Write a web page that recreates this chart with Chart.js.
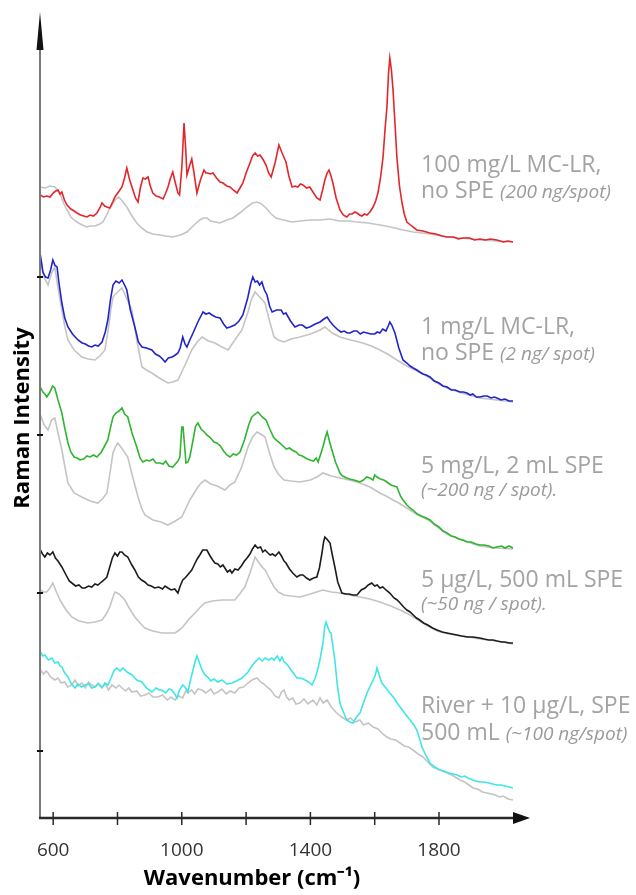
<!DOCTYPE html>
<html>
<head>
<meta charset="utf-8">
<script src="https://cdn.jsdelivr.net/npm/chart.js@4"></script>
<style>
  body { margin: 0; background: #fff; }
</style>
</head>
<body>
<canvas id="raman" width="636" height="895"></canvas>
<script>
// spectra as [wavenumber cm-1, stacked intensity (arb. units)]
const red = [[560,623],[570,621],[580,622],[590,621],[600,625],[608,627],[615,628],[621,624],[627,626],[635,618],[643,613],[655,609],[665,607],[674,605],[685,603],[695,602],[705,601],[715,603],[725,602],[736,605],[745,610],[752,615],[760,612],[767,611],[776,610],[785,616],[792,621],[803,626],[814,631],[822,640],[829,650],[838,638],[848,628],[856,620],[864,616],[871,630],[879,640],[887,639],[895,641],[902,632],[910,625],[920,622],[930,621],[942,619],[950,625],[957,631],[965,640],[972,646],[980,635],[988,625],[993,623],[1000,650],[1007,695],[1012,670],[1016,643],[1024,652],[1031,659],[1038,645],[1047,625],[1058,638],[1069,648],[1075,645],[1081,645],[1089,644],[1097,645],[1108,640],[1119,636],[1128,635],[1140,632],[1150,631],[1160,628],[1172,625],[1181,630],[1190,635],[1200,645],[1212,655],[1220,662],[1228,665],[1236,662],[1243,663],[1252,659],[1262,653],[1270,645],[1278,641],[1290,655],[1302,673],[1312,665],[1324,656],[1333,642],[1343,631],[1352,632],[1361,631],[1369,634],[1377,633],[1388,630],[1398,631],[1410,625],[1420,620],[1430,618],[1438,628],[1445,638],[1452,645],[1458,648],[1464,642],[1470,635],[1480,620],[1492,608],[1502,603],[1513,601],[1522,604],[1530,604],[1538,606],[1545,605],[1553,603],[1560,602],[1568,604],[1576,603],[1585,606],[1595,611],[1603,617],[1610,625],[1618,640],[1626,661],[1632,688],[1638,711],[1643,745],[1647,760],[1652,748],[1657,728],[1663,695],[1669,661],[1677,632],[1685,615],[1692,604],[1700,596],[1715,592],[1731,588],[1750,587],[1772,585],[1790,584],[1810,582],[1825,581],[1845,581],[1860,579],[1875,580],[1895,580],[1910,578],[1927,579],[1945,578],[1960,579],[1980,578],[2000,576],[2015,577],[2030,576]];

const blue = [[560,563],[564,555],[568,546],[576,541],[584,540],[592,548],[599,558],[605,553],[612,551],[618,535],[627,515],[636,500],[646,491],[660,484],[677,478],[690,475],[700,474],[710,472],[720,471],[730,473],[740,472],[752,476],[762,486],[770,498],[778,518],[786,533],[795,537],[805,535],[814,538],[822,533],[829,528],[840,508],[854,491],[865,476],[876,471],[890,470],[907,468],[918,464],[930,462],[940,459],[948,456],[958,460],[970,461],[980,463],[988,465],[995,470],[1003,481],[1010,474],[1016,471],[1025,478],[1035,485],[1050,496],[1066,506],[1075,504],[1085,505],[1094,503],[1105,501],[1119,500],[1130,494],[1140,490],[1150,491],[1165,493],[1178,497],[1190,503],[1205,520],[1215,535],[1221,541],[1228,536],[1235,537],[1242,533],[1249,536],[1257,528],[1265,523],[1273,512],[1281,506],[1295,508],[1309,508],[1316,504],[1324,505],[1338,497],[1352,491],[1365,493],[1375,493],[1387,490],[1398,491],[1415,494],[1430,496],[1442,499],[1452,501],[1460,497],[1470,493],[1486,488],[1495,486],[1505,487],[1515,485],[1523,485],[1535,487],[1545,487],[1555,484],[1565,486],[1576,485],[1588,484],[1600,484],[1608,486],[1616,485],[1625,489],[1635,487],[1642,492],[1647,496],[1653,493],[1663,485],[1675,470],[1688,458],[1700,455],[1710,452],[1720,450],[1731,448],[1740,446],[1750,444],[1760,443],[1772,441],[1785,437],[1800,435],[1812,432],[1825,431],[1838,428],[1850,428],[1865,426],[1876,426],[1887,425],[1897,423],[1905,424],[1916,421],[1927,421],[1940,422],[1950,422],[1962,420],[1972,421],[1980,420],[1993,418],[2005,419],[2018,417],[2030,417]];

const green = [[560,431],[568,426],[574,424],[580,421],[590,426],[598,432],[605,430],[615,418],[627,405],[636,390],[646,375],[655,366],[665,361],[675,360],[683,358],[695,359],[705,362],[715,361],[725,363],[736,361],[750,366],[760,372],[770,378],[778,390],[786,401],[795,405],[805,407],[814,410],[822,404],[832,401],[845,385],[860,371],[870,360],[879,356],[890,358],[900,357],[910,359],[920,355],[932,355],[942,354],[950,357],[960,352],[972,351],[980,354],[988,357],[994,361],[1000,391],[1004,391],[1008,375],[1013,355],[1019,356],[1025,361],[1035,378],[1043,392],[1050,395],[1060,389],[1070,386],[1078,383],[1090,380],[1100,376],[1109,375],[1120,372],[1130,367],[1140,363],[1150,361],[1160,364],[1170,363],[1181,366],[1195,378],[1208,393],[1218,401],[1228,404],[1237,406],[1250,401],[1262,398],[1275,388],[1285,381],[1293,378],[1305,375],[1315,372],[1325,369],[1335,370],[1343,368],[1355,366],[1365,363],[1375,362],[1385,360],[1398,358],[1410,357],[1418,360],[1424,356],[1432,364],[1439,371],[1446,380],[1452,386],[1460,376],[1467,368],[1478,356],[1492,345],[1500,342],[1513,340],[1522,339],[1535,338],[1545,337],[1554,336],[1565,338],[1575,341],[1585,340],[1595,338],[1600,343],[1607,341],[1618,339],[1628,338],[1638,336],[1650,333],[1660,332],[1669,331],[1680,322],[1688,318],[1700,313],[1710,310],[1719,308],[1732,304],[1745,302],[1760,300],[1772,298],[1785,294],[1800,291],[1812,287],[1825,285],[1838,282],[1850,281],[1862,279],[1875,278],[1888,276],[1900,276],[1915,274],[1927,273],[1940,273],[1955,272],[1967,270],[1980,271],[1995,272],[2005,270],[2018,272],[2030,270]];

const black = [[560,268],[567,264],[574,261],[582,265],[590,263],[599,266],[607,260],[615,257],[627,251],[640,243],[650,237],[658,235],[670,232],[680,233],[690,230],[699,230],[710,232],[720,231],[730,234],[739,233],[750,236],[758,238],[767,241],[775,250],[784,260],[792,265],[800,262],[807,266],[814,266],[822,263],[832,261],[843,254],[854,248],[865,241],[875,238],[885,236],[895,233],[905,232],[916,230],[928,231],[940,229],[948,232],[957,230],[967,228],[978,229],[988,225],[995,232],[1003,238],[1010,240],[1018,243],[1031,248],[1040,254],[1048,259],[1056,263],[1065,268],[1078,268],[1088,262],[1096,258],[1103,255],[1112,254],[1120,251],[1128,253],[1134,250],[1142,246],[1150,248],[1156,245],[1165,249],[1175,248],[1185,252],[1195,257],[1203,260],[1212,264],[1220,269],[1228,273],[1236,270],[1245,271],[1252,266],[1259,268],[1268,265],[1275,263],[1282,264],[1291,262],[1302,266],[1310,262],[1318,257],[1324,255],[1335,249],[1345,245],[1358,241],[1368,243],[1377,243],[1388,240],[1398,238],[1410,240],[1420,241],[1428,250],[1436,265],[1441,276],[1445,281],[1451,279],[1456,277],[1461,275],[1467,265],[1476,251],[1485,236],[1498,225],[1510,224],[1520,224],[1532,223],[1545,223],[1558,228],[1570,230],[1580,233],[1591,235],[1600,232],[1608,233],[1616,230],[1625,231],[1635,228],[1647,225],[1660,220],[1670,218],[1679,215],[1690,211],[1700,208],[1710,206],[1720,203],[1730,200],[1740,198],[1752,195],[1765,193],[1780,190],[1794,188],[1810,186],[1825,185],[1840,184],[1856,183],[1870,182],[1890,181],[1905,181],[1927,180],[1940,179],[1955,178],[1968,178],[1980,177],[1995,176],[2005,176],[2018,175],[2030,175]];

const cyan = [[560,166],[567,162],[574,163],[585,158],[596,160],[605,155],[615,156],[621,152],[627,151],[636,145],[646,141],[657,134],[668,130],[677,134],[688,131],[699,133],[710,134],[720,130],[730,131],[740,134],[752,130],[761,135],[770,133],[780,140],[790,148],[798,150],[808,147],[817,150],[830,146],[845,143],[860,138],[876,136],[890,130],[907,126],[920,130],[930,128],[938,128],[950,125],[960,129],[969,128],[978,124],[985,120],[993,128],[1003,133],[1010,131],[1019,126],[1027,138],[1035,148],[1041,156],[1047,162],[1053,157],[1063,148],[1072,143],[1081,141],[1090,137],[1100,139],[1112,136],[1125,138],[1140,134],[1156,135],[1170,137],[1187,140],[1197,143],[1206,146],[1218,152],[1228,156],[1240,160],[1250,157],[1259,160],[1270,158],[1280,160],[1287,158],[1297,162],[1305,157],[1312,161],[1318,156],[1324,155],[1340,148],[1358,140],[1370,140],[1383,138],[1395,136],[1405,133],[1415,140],[1424,150],[1432,162],[1439,175],[1445,192],[1449,196],[1455,190],[1460,186],[1464,185],[1470,172],[1476,158],[1484,132],[1492,115],[1500,108],[1513,98],[1522,96],[1532,95],[1543,101],[1554,105],[1565,115],[1576,125],[1586,132],[1595,138],[1602,143],[1607,150],[1613,144],[1622,135],[1635,130],[1647,125],[1660,120],[1670,115],[1679,111],[1695,104],[1710,98],[1722,93],[1731,88],[1740,79],[1747,71],[1760,62],[1772,55],[1787,51],[1803,48],[1815,47],[1830,45],[1845,44],[1856,43],[1870,41],[1880,42],[1890,40],[1905,38],[1915,37],[1927,36],[1940,36],[1955,35],[1967,34],[1980,33],[1993,33],[2005,32],[2018,31],[2030,30]];

// grey reference spectra drawn under each trace
const grey1 = [[560,631],[575,630],[590,632],[605,631],[613,628],[621,625],[632,615],[643,608],[655,601],[665,598],[674,596],[690,593],[705,591],[714,592],[730,592],[745,594],[755,596],[765,602],[775,609],[783,613],[795,619],[804,621],[815,617],[829,611],[845,602],[860,595],[875,590],[892,586],[910,584],[932,583],[950,582],[972,581],[995,583],[1016,586],[1035,592],[1056,598],[1067,600],[1078,600],[1090,597],[1105,596],[1119,595],[1140,598],[1159,600],[1180,605],[1203,611],[1220,615],[1234,616],[1248,614],[1262,610],[1278,604],[1293,600],[1315,598],[1343,596],[1370,597],[1400,598],[1430,598],[1460,599],[1490,597],[1520,597],[1545,596],[1580,595],[1616,593],[1650,591],[1688,588],[1720,586],[1750,585],[1790,583],[1825,581],[1870,580],[1927,578],[1980,577],[2030,576]];

const grey2 = [[560,558],[572,540],[584,533],[595,545],[605,551],[615,530],[627,508],[637,490],[646,478],[665,468],[689,461],[710,459],[730,458],[745,462],[761,468],[772,490],[780,510],[786,521],[800,526],[814,530],[828,520],[845,508],[860,478],[876,451],[890,448],[907,445],[930,440],[957,435],[972,436],[988,438],[1010,453],[1031,468],[1048,476],[1063,481],[1083,477],[1103,475],[1125,471],[1144,468],[1165,478],[1187,488],[1205,505],[1218,520],[1228,526],[1242,521],[1259,515],[1272,498],[1287,481],[1300,478],[1318,476],[1340,479],[1367,481],[1400,484],[1430,488],[1445,491],[1468,485],[1492,481],[1525,478],[1563,475],[1590,472],[1616,468],[1640,464],[1669,458],[1700,452],[1731,447],[1750,444],[1772,440],[1800,434],[1825,430],[1870,425],[1927,420],[1980,418],[2030,416]];

const grey3 = [[560,403],[572,393],[584,388],[595,398],[605,400],[615,385],[627,368],[636,352],[646,335],[665,325],[689,321],[715,317],[739,315],[753,319],[767,325],[778,348],[786,365],[795,372],[801,375],[815,369],[832,361],[848,340],[864,321],[875,310],[885,303],[910,298],[935,296],[957,293],[980,297],[1000,301],[1025,318],[1050,331],[1060,335],[1072,338],[1090,334],[1110,332],[1134,328],[1150,333],[1165,336],[1185,350],[1206,371],[1220,381],[1234,386],[1245,384],[1259,381],[1272,366],[1287,351],[1300,344],[1318,338],[1340,337],[1367,336],[1400,338],[1420,341],[1439,345],[1465,342],[1492,340],[1520,338],[1554,335],[1585,331],[1616,325],[1635,322],[1657,318],[1675,315],[1694,311],[1730,304],[1772,297],[1800,290],[1825,284],[1870,278],[1927,272],[1980,270],[2030,269]];

const grey4 = [[560,228],[570,226],[580,226],[590,230],[599,235],[610,226],[621,218],[640,208],[658,201],[680,197],[708,195],[730,196],[752,198],[765,204],[776,211],[785,220],[792,226],[805,224],[823,218],[838,209],[854,201],[870,195],[885,190],[910,187],[938,185],[960,185],[979,185],[992,188],[1003,191],[1020,198],[1041,205],[1058,211],[1072,215],[1095,217],[1125,218],[1145,218],[1165,218],[1180,224],[1196,231],[1212,245],[1220,253],[1228,261],[1238,256],[1250,251],[1259,248],[1272,240],[1287,231],[1300,226],[1318,223],[1340,222],[1367,221],[1400,224],[1439,228],[1465,226],[1492,225],[1520,223],[1554,221],[1585,219],[1616,216],[1650,212],[1679,208],[1710,203],[1740,197],[1765,192],[1794,187],[1830,184],[1870,182],[1927,179],[1980,177],[2030,174]];

const grey5 = [[560,148],[570,144],[578,147],[584,145],[592,141],[605,138],[615,140],[625,135],[636,136],[645,131],[658,133],[668,138],[678,132],[689,135],[700,130],[710,136],[720,133],[730,131],[740,135],[752,131],[762,134],[772,128],[783,133],[795,130],[805,133],[814,130],[825,127],[835,130],[845,126],[860,127],[872,122],[885,123],[898,125],[910,121],[926,121],[940,123],[955,118],[966,121],[979,118],[990,122],[1003,120],[1012,127],[1019,125],[1030,128],[1040,124],[1050,129],[1063,128],[1075,125],[1090,129],[1100,124],[1112,126],[1125,129],[1138,124],[1150,127],[1165,125],[1178,130],[1192,131],[1206,135],[1218,138],[1234,140],[1245,136],[1255,134],[1265,131],[1277,128],[1290,122],[1302,120],[1310,126],[1318,128],[1326,121],[1334,118],[1345,120],[1355,114],[1367,115],[1380,119],[1392,114],[1408,118],[1420,113],[1430,120],[1440,115],[1452,118],[1465,111],[1482,105],[1497,101],[1513,98],[1525,100],[1538,96],[1554,98],[1565,93],[1580,95],[1595,91],[1610,89],[1625,84],[1638,81],[1650,79],[1665,78],[1679,75],[1692,72],[1705,71],[1719,68],[1735,64],[1750,61],[1765,56],[1781,51],[1795,49],[1810,47],[1825,45],[1840,43],[1855,40],[1865,38],[1880,36],[1893,33],[1906,30],[1920,29],[1935,26],[1949,25],[1962,24],[1975,23],[1989,21],[2000,22],[2015,19],[2030,18]];

const xTicks = [600, 800, 1000, 1200, 1400, 1600, 1800];
const xTickLabels = ['600', '', '1000', '', '1400', '', '1800'];
const yTicks = [67, 225, 383, 541];

const labelLines = [
    ['100 mg/L MC-LR,', ''],
    ['no SPE ', '(200 ng/spot)'],
    ['1 mg/L MC-LR,', ''],
    ['no SPE ', '(2 ng/ spot)'],
    ['5 mg/L, 2 mL SPE', ''],
    ['', '(~200 ng / spot).'],
    ['5 \u00b5g/L, 500 mL SPE', ''],
    ['', '(~50 ng / spot).'],
    ['River + 10 \u00b5g/L, SPE', ''],
    ['500 mL ', '(~100 ng/spot)']
];
const labelBaselines = [172, 198, 334, 360, 473, 496, 587, 610, 713, 740];

function pts(pairs) {
    return pairs.map(p => ({ x: p[0], y: p[1] }));
}

function line(pairs, color) {
    return {
        data: pts(pairs),
        borderColor: color,
        borderWidth: 1.6,
        pointRadius: 0,
        tension: 0,
        fill: false
    };
}

const greyCol = '#c4c4c4';

const decor = {
    id: 'decor',
    afterDraw(chart) {
        const ctx = chart.ctx;
        const xs = chart.scales.x;
        const ys = chart.scales.y;
        const { left, right, top, bottom } = chart.chartArea;
        ctx.save();

        // y axis with arrow
        ctx.strokeStyle = '#7a7a7a';
        ctx.lineWidth = 2;
        ctx.beginPath();
        ctx.moveTo(left, bottom);
        ctx.lineTo(left, top + 20);
        ctx.stroke();
        ctx.fillStyle = '#111';
        ctx.beginPath();
        ctx.moveTo(left, top);
        ctx.lineTo(left - 3.5, top + 38);
        ctx.lineTo(left + 3.5, top + 38);
        ctx.closePath();
        ctx.fill();

        ctx.strokeStyle = '#111';
        ctx.lineWidth = 2;
        yTicks.forEach(v => {
            const py = ys.getPixelForValue(v);
            ctx.beginPath();
            ctx.moveTo(left - 3, py);
            ctx.lineTo(left + 3, py);
            ctx.stroke();
        });

        // x axis with arrow
        ctx.strokeStyle = '#2a2a2a';
        ctx.lineWidth = 2.5;
        ctx.beginPath();
        ctx.moveTo(left - 1, bottom);
        ctx.lineTo(right - 12, bottom);
        ctx.stroke();
        ctx.fillStyle = '#111';
        ctx.beginPath();
        ctx.moveTo(right, bottom);
        ctx.lineTo(right - 17, bottom - 6);
        ctx.lineTo(right - 17, bottom + 6);
        ctx.closePath();
        ctx.fill();

        ctx.strokeStyle = '#2a2a2a';
        ctx.lineWidth = 1.5;
        xTicks.forEach(v => {
            const px = xs.getPixelForValue(v);
            ctx.beginPath();
            ctx.moveTo(px, bottom - 6);
            ctx.lineTo(px, bottom + 7);
            ctx.stroke();
        });

        // axis titles
        ctx.fillStyle = '#000';
        ctx.font = 'bold 22px "Open Sans"';
        ctx.textAlign = 'center';
        ctx.textBaseline = 'alphabetic';
        ctx.fillText('Wavenumber (cm\u207b\u00b9)', 252, 885);
        ctx.save();
        ctx.translate(29, 418);
        ctx.rotate(-Math.PI / 2);
        ctx.fillText('Raman Intensity', 0, 0);
        ctx.restore();

        // trace labels
        ctx.textAlign = 'left';
        labelLines.forEach((parts, i) => {
            let x = 421;
            const y = labelBaselines[i];
            if (parts[0]) {
                ctx.font = '23px "Open Sans"';
                ctx.fillStyle = '#a3a3a3';
                ctx.fillText(parts[0], x, y);
                x += ctx.measureText(parts[0]).width;
            }
            if (parts[1]) {
                ctx.font = 'italic 19px "Open Sans"';
                ctx.fillStyle = '#9a9a9a';
                ctx.fillText(parts[1], x, y);
            }
        });
        ctx.restore();
    }
};

new Chart(document.getElementById('raman'), {
    type: 'line',
    data: {
        datasets: [
            line(red, '#e3262b'),
            line(blue, '#2323cc'),
            line(green, '#2fb52f'),
            line(black, '#1c1c1c'),
            line(cyan, '#3ee6e6'),
            line(grey1, greyCol),
            line(grey2, greyCol),
            line(grey3, greyCol),
            line(grey4, greyCol),
            line(grey5, greyCol)
        ]
    },
    options: {
        responsive: false,
        animation: false,
        layout: { padding: { left: 40, top: 12, right: 106, bottom: 0 } },
        plugins: {
            legend: { display: false },
            tooltip: { enabled: false }
        },
        scales: {
            x: {
                type: 'linear',
                min: 559,
                max: 2083,
                border: { display: false },
                grid: { display: false, drawTicks: false },
                afterBuildTicks: scale => {
                    scale.ticks = xTicks.map(v => ({ value: v }));
                },
                afterFit: scale => {
                    scale.height = 77;
                },
                ticks: {
                    padding: 21,
                    maxRotation: 0,
                    autoSkip: false,
                    color: '#333',
                    font: { family: 'Open Sans', size: 19 },
                    callback: (v, i) => xTickLabels[i]
                }
            },
            y: {
                min: 0,
                max: 806,
                border: { display: false },
                grid: { display: false, drawTicks: false },
                afterFit: scale => {
                    scale.width = 0;
                },
                ticks: { display: false }
            }
        }
    },
    plugins: [decor]
});
</script>
</body>
</html>
